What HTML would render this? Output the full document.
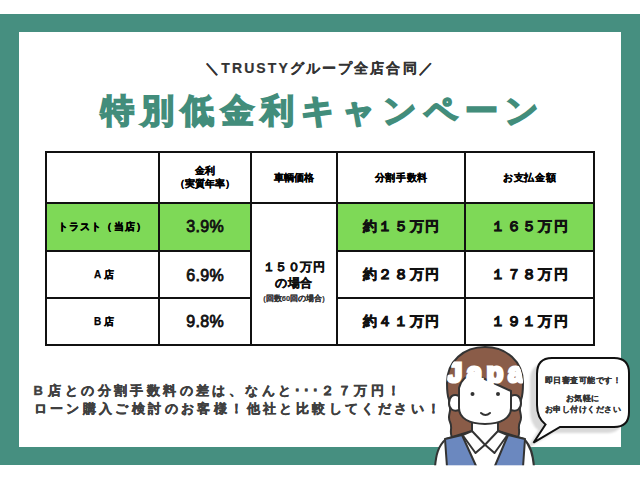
<!DOCTYPE html>
<html><head><meta charset="utf-8">
<style>
*{margin:0;padding:0;box-sizing:border-box}
html,body{width:640px;height:480px;overflow:hidden;background:#fff}
body{position:relative;font-family:"Liberation Sans",sans-serif;color:#111}
.a{position:absolute}
#frame{left:0;top:14px;width:640px;height:451px;background:#468f80}
#inner{left:19px;top:32px;width:602px;height:415px;background:#fff}
.hl{position:absolute;height:2px;background:#111}
.vl{position:absolute;width:2px;background:#111}
.g{position:absolute;background:#7ed957}
.t{position:absolute;white-space:nowrap;font-weight:bold;text-align:center}
#sub{left:120px;top:60px;width:400px;font-size:14px;color:#333;letter-spacing:2.1px;-webkit-text-stroke:0.2px #333}
#title{left:63px;top:89px;width:520px;font-size:33px;color:#428d7b;letter-spacing:7px;-webkit-text-stroke:1.8px #428d7b}
.hd{font-size:10px;color:#000;line-height:13px;-webkit-text-stroke:0.25px #000}
.pc{font-size:16px;color:#111;letter-spacing:0.3px;text-indent:0.3px;font-weight:normal!important;-webkit-text-stroke:0.8px #111}
.yen{font-size:14px;color:#111;-webkit-text-stroke:0.6px #111;letter-spacing:1.6px;text-indent:1.6px}
#msg{left:33.5px;top:382px;font-size:13px;color:#404040;letter-spacing:3.4px;line-height:18px;font-weight:bold;-webkit-text-stroke:0.4px #404040;white-space:nowrap}
</style></head><body>
<div class="a" id="frame"></div>
<div class="a" id="inner"></div>

<div class="t" id="sub">＼TRUSTYグループ全店合同／</div>
<div class="t" id="title">特別低金利キャンペーン</div>

<!-- green cells -->
<div class="g" style="left:47px;top:204px;width:111px;height:46px"></div>
<div class="g" style="left:160px;top:204px;width:90px;height:46px"></div>
<div class="g" style="left:337px;top:204px;width:127px;height:46px"></div>
<div class="g" style="left:466px;top:204px;width:127px;height:46px"></div>

<!-- table lines -->
<div class="hl" style="left:45px;top:151px;width:550px"></div>
<div class="hl" style="left:45px;top:202px;width:550px"></div>
<div class="hl" style="left:45px;top:250px;width:205px"></div>
<div class="hl" style="left:336px;top:250px;width:259px"></div>
<div class="hl" style="left:45px;top:297px;width:205px"></div>
<div class="hl" style="left:336px;top:297px;width:259px"></div>
<div class="hl" style="left:45px;top:344px;width:550px"></div>
<div class="vl" style="left:45px;top:151px;height:195px"></div>
<div class="vl" style="left:158px;top:151px;height:195px"></div>
<div class="vl" style="left:250px;top:151px;height:195px"></div>
<div class="vl" style="left:336px;top:151px;height:195px"></div>
<div class="vl" style="left:464px;top:151px;height:195px"></div>
<div class="vl" style="left:593px;top:151px;height:195px"></div>

<!-- header -->
<div class="t hd" style="left:160px;top:164px;width:90px">金利<br>（実質年率）</div>
<div class="t hd" style="left:252px;top:171px;width:84px">車輌価格</div>
<div class="t hd" style="left:338px;top:171px;width:126px;letter-spacing:0.6px;text-indent:0.6px">分割手数料</div>
<div class="t hd" style="left:466px;top:171px;width:127px;letter-spacing:0.6px;text-indent:0.6px">お支払金額</div>

<!-- col1 -->
<div class="t hd" style="left:47px;top:220px;width:111px;letter-spacing:1.2px;-webkit-text-stroke:0.4px #000">トラスト（当店）</div>
<div class="t hd" style="left:50px;top:268px;width:111px;letter-spacing:3px">A店</div>
<div class="t hd" style="left:50px;top:315px;width:111px;letter-spacing:3px">B店</div>

<!-- col2 -->
<div class="t pc" style="left:160px;top:218px;width:90px">3.9%</div>
<div class="t pc" style="left:160px;top:267px;width:90px">6.9%</div>
<div class="t pc" style="left:160px;top:313px;width:90px">9.8%</div>

<!-- col3 -->
<div class="t" style="left:252px;top:259px;width:84px;font-size:12px;line-height:16px;-webkit-text-stroke:0.35px #111;letter-spacing:0.5px">１５０万円<br>の場合</div>
<div class="t" style="left:252px;top:294px;width:84px;font-size:7.5px;color:#333;-webkit-text-stroke:0.15px #333">(回数60回の場合)</div>

<!-- col4/5 -->
<div class="t yen" style="left:338px;top:218px;width:126px">約１５万円</div>
<div class="t yen" style="left:338px;top:266px;width:126px">約２８万円</div>
<div class="t yen" style="left:338px;top:313px;width:126px">約４１万円</div>
<div class="t yen" style="left:466px;top:218px;width:127px">１６５万円</div>
<div class="t yen" style="left:466px;top:266px;width:127px">１７８万円</div>
<div class="t yen" style="left:466px;top:313px;width:127px">１９１万円</div>

<div class="a" id="msg"><span style="letter-spacing:5.5px">B</span>店との分割手数料の差は、なんと<span style="letter-spacing:2px">･･･</span>２７万円！<br>ローン購入ご検討のお客様！他社と比較してください！</div>

<svg class="a" style="left:0;top:0" width="640" height="480" viewBox="0 0 640 480">
 <defs>
  <filter id="bl" x="-30%" y="-30%" width="160%" height="160%"><feGaussianBlur stdDeviation="0.8"/></filter>
  <clipPath id="hc"><path d="M452,437 C449,432 453,428 450,422 C447,416 451,412 450,408 L449,400 C447,395 447,390 447,383 C447,361 464,347 485,347 C506,347 523,361 523,383 C523,390 523,395 521,400 L520,408 C519,412 523,416 520,422 C517,428 521,432 518,437 Z"/></clipPath>
 </defs>
 <!-- bubble shadow -->
 <path transform="translate(-7,6)" filter="url(#bl)" fill="#d9d9d9" d="M552,358 H614 Q629,358 629,373 V412 Q629,427 614,427 H560 L533.5,442.7 L545.5,424.5 Q537,418 537,405 V374 Q537,358 552,358 Z"/>
 <path fill="#fff" stroke="#111" stroke-width="2" stroke-linejoin="miter" d="M552,358 H614 Q629,358 629,373 V412 Q629,427 614,427 H560 L533.5,442.7 L545.5,424.5 Q537,418 537,405 V374 Q537,358 552,358 Z"/>
 <!-- figure -->
 <g stroke="#333" stroke-width="2" stroke-linejoin="round" stroke-linecap="round">
  <path fill="#8a5c48" d="M452,437 C449,432 453,428 450,422 C447,416 451,412 450,408 L449,400 C447,395 447,390 447,383 C447,361 464,347 485,347 C506,347 523,361 523,383 C523,390 523,395 521,400 L520,408 C519,412 523,416 520,422 C517,428 521,432 518,437 Z"/>
 </g>
  <g stroke="#333" stroke-width="2" stroke-linejoin="round" stroke-linecap="round">
  <path fill="#fff" d="M435,467 C436,455 438,446 446,439 L462,434 L472,431 L472,418 L498,418 L498,431 L508,434 L524,439 C531,446 533,455 534,467 Z"/>
  <path fill="#6b88bf" d="M447,467 L445,439 L462,435 L476.5,467 Z"/>
  <path fill="#6b88bf" d="M523,467 L525,439 L508,435 L494.5,467 Z"/>
  <path fill="#fff" d="M462.5,435 L472,431 L485,444.7 L475.5,453 Z"/>
  <path fill="#fff" d="M507.5,435 L498,431 L485,444.7 L494.5,453 Z"/>
  <path fill="none" d="M472,423 L472,431 M498,423 L498,431"/>
  <path fill="#fff" d="M459,396 C453,393 449,397 449,403 C449,409 453,412 459,410"/>
  <path fill="#fff" d="M511,396 C517,393 521,397 521,403 C521,409 517,412 511,410"/>
  <path fill="#fff" d="M459,388 C461,380 467,375 474,374 L511,391 L511,408 C511,418 501,424 485,424 C469,424 459,418 459,408 Z"/>
  <path fill="none" d="M481,413 Q485.5,417 490,413"/>
 </g>
<text x="447" y="382" clip-path="url(#hc)" font-family="Liberation Sans" font-weight="bold" font-size="27.5" letter-spacing="4.5" fill="#fff" stroke="#fff" stroke-width="3">Japan</text>
 <circle cx="472.5" cy="394" r="2" fill="#333"/>
 <circle cx="498" cy="394" r="2" fill="#333"/>
 <rect x="0" y="465.3" width="640" height="15" fill="#fff"/>
 <g font-family="Liberation Sans" font-weight="bold" font-size="8" fill="#333" text-anchor="middle" letter-spacing="0.5" stroke="#333" stroke-width="0.15">
 <text x="583" y="382.5">即日審査可能です！</text>
 <text x="582.5" y="400.5">お気軽に</text>
 <text x="583" y="412">お申し付けください</text>
 </g>
</svg>
</body></html>
